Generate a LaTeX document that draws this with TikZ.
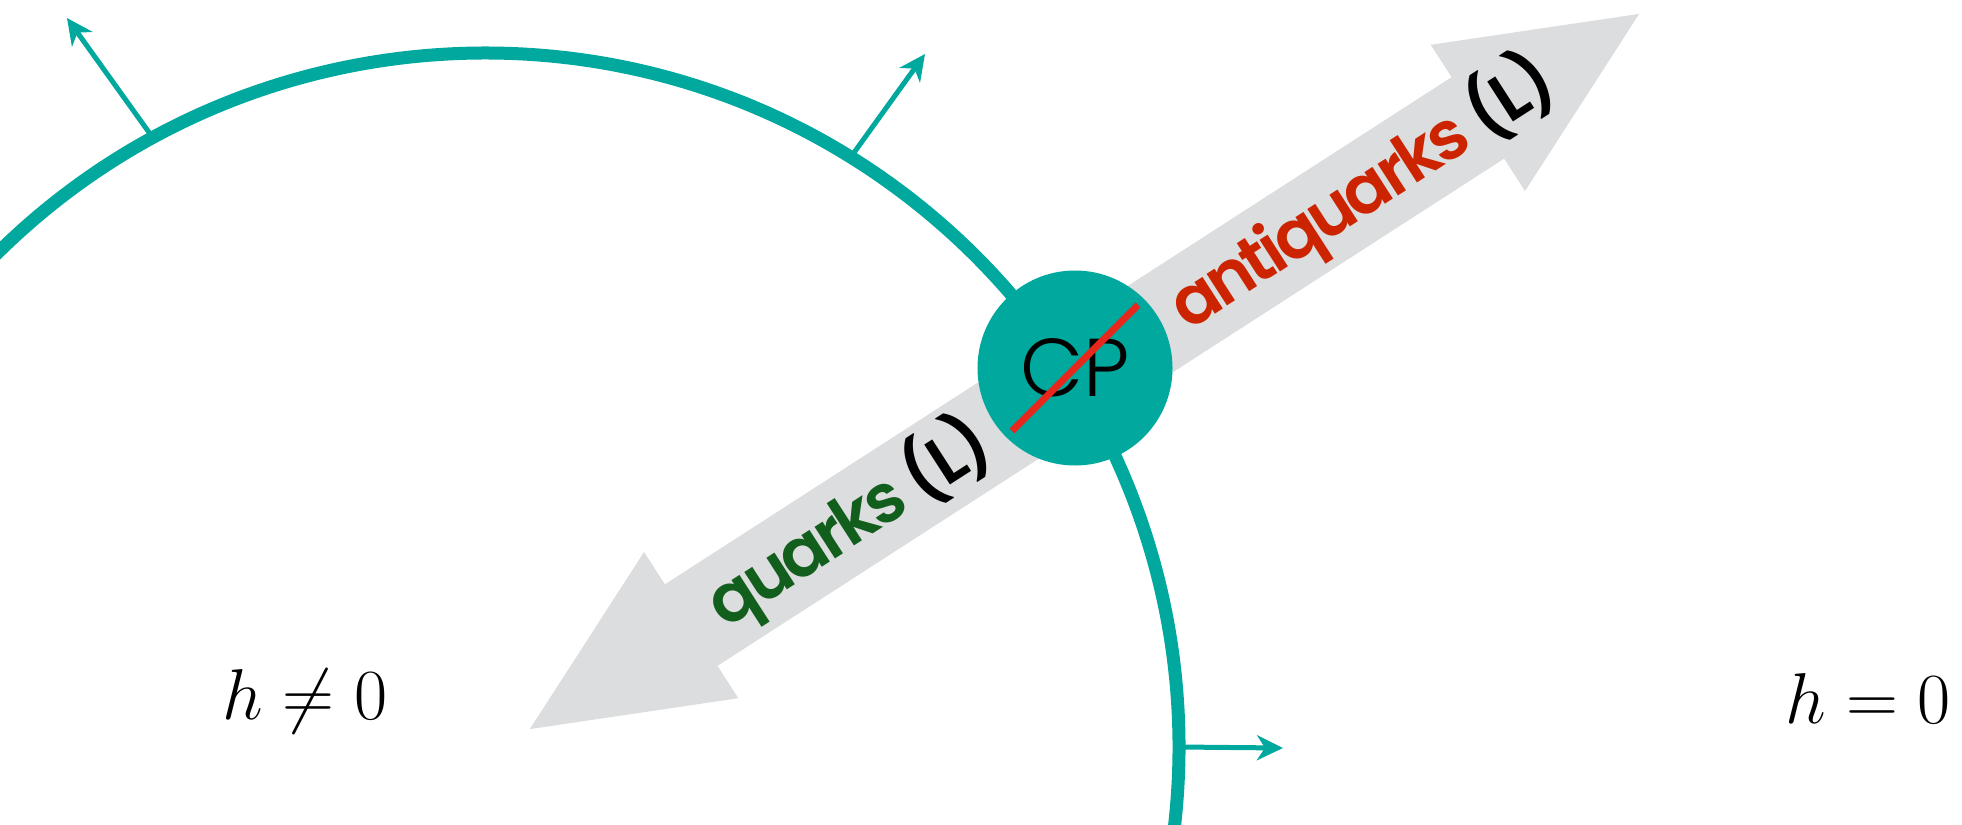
\RequirePackage{fix-cm}
\documentclass[tikz,border=0pt]{standalone}
\usepackage{fontspec}
\setsansfont{Poppins}
\newfontfamily\lblfont{Poppins SemiBold}[LetterSpace=-6]
\newfontfamily\cpfont{Poppins Light}
\usetikzlibrary{arrows.meta,calc}
\definecolor{cpteal}{RGB}{0,168,157}
\definecolor{arrowgrey}{RGB}{220,221,222}
\definecolor{qgreen}{RGB}{18,94,28}
\definecolor{aqred}{RGB}{204,36,0}
\definecolor{slashred}{RGB}{232,38,28}
\begin{document}
\begin{tikzpicture}[x=0.5pt,y=-0.5pt,
  normalarrow/.style={cpteal, line width=2.5pt, -{Stealth[length=13pt,width=12.5pt,inset=4pt]}},
  lbl/.style={font=\lblfont\fontsize{34}{34}\selectfont, rotate=32.81, inner sep=0pt},
  hlabel/.style={anchor=base west, inner sep=0pt, font=\fontsize{36}{36}\selectfont}]
\useasboundingbox (0,0) rectangle (1962,824);
\clip (0,0) rectangle (1962,824);
% big wall arc
\coordinate (c) at (485,747);
\draw[cpteal, line width=6.5pt] (c) ++(-140:694) arc[start angle=-140, end angle=10, radius=694];
% normals
\coordinate (s1) at ($(c)+(-118.6:694)$);
\coordinate (t1) at (67,18);
\coordinate (s2) at ($(c)+(-58.2:694)$);
\coordinate (t2) at (925,54);
\coordinate (s3) at ($(c)+(0:694)$);
\coordinate (t3) at (1283,748);
\draw[normalarrow] (s1) -- (t1);
\draw[normalarrow] (s2) -- (t2);
\draw[normalarrow] (s3) -- (t3);
% grey double arrow
\begin{scope}[shift={(1084.5,371.5)}, rotate=32.81]
\fill[arrowgrey] (660,0) -- (468,-87) -- (468,-48.5) -- (-468,-48.5) -- (-468,-87)
  -- (-660,0) -- (-468,87) -- (-468,48.5) -- (468,48.5) -- (468,87) -- cycle;
\node[lbl] (q) at (-280,0) {\textcolor{qgreen}{quarks} (L)};
\node[lbl] (aq) at (330,0) {\textcolor{aqred}{antiquarks} (L)};
\end{scope}
% CP
\node[circle, fill=cpteal, minimum size=97.5pt, inner sep=0pt,
  font=\cpfont\fontsize{41}{41}\selectfont] (cp) at (1075,368) {CP};
\draw[slashred, line width=3.5pt] ($(cp)+(-63,63)$) -- ($(cp)+(63,-63)$);
% labels
\node[hlabel] (hne) at (222,719) {$h\neq 0$};
\node[hlabel] (heq) at (1785,723) {$h=0$};
\end{tikzpicture}
\end{document}
